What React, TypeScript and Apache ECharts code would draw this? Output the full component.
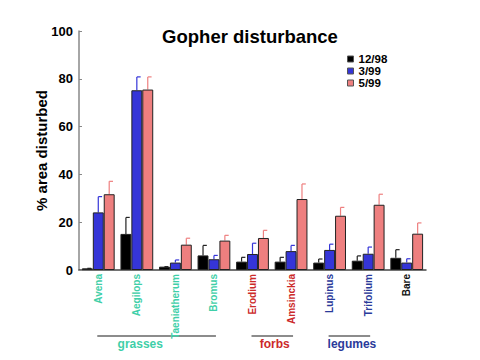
import React, { useEffect, useRef } from "react";
import * as echarts from "echarts";

const categories = ["Avena", "Aegilops", "Taeniatherum", "Bromus", "Erodium", "Amsinckia", "Lupinus", "Trifolium", "Bare"];
const categoryColors = ["#3fcfa8", "#3fcfa8", "#3fcfa8", "#3fcfa8", "#cc2a2a", "#cc2a2a", "#2a3a9a", "#2a3a9a", "#111111"];
const seriesNames = ["12/98", "3/99", "5/99"];
const seriesColors = ["#000000", "#3535d8", "#ee7f7f"];
const values1298 = [0.7, 15.1, 1.4, 6.1, 3.5, 3.5, 3.1, 3.9, 5.1];
const errTop1298 = [0.7, 22.0, 1.4, 10.3, 5.3, 5.3, 4.6, 5.9, 8.5];
const values399 = [24.1, 75.2, 3.1, 4.5, 6.7, 7.9, 8.4, 6.8, 3.1];
const errTop399 = [30.7, 80.8, 4.2, 6.1, 11.2, 10.3, 10.8, 9.6, 4.7];
const values599 = [31.7, 75.5, 10.6, 12.3, 13.4, 29.7, 22.7, 27.3, 15.2];
const errTop599 = [37.1, 80.8, 13.3, 14.5, 16.6, 36.0, 26.2, 31.7, 19.7];
const groups = [
  { name: "grasses", from: 0, to: 3, color: "#3fcfa8" },
  { name: "forbs", from: 4, to: 5, color: "#cc2a2a" },
  { name: "legumes", from: 6, to: 7, color: "#2a3a9a" },
];

const allValues = [values1298, values399, values599];
const allErr = [errTop1298, errTop399, errTop599];
const CAT_GAP = 0.15;

export default function App() {
  const ref = useRef<HTMLDivElement>(null);
  useEffect(() => {
    if (!ref.current) return;
    const chart = echarts.init(ref.current, null, { renderer: "svg" });
    const font = "Arial, 'Liberation Sans', sans-serif";
    const barSeries: any[] = seriesNames.map((name, i) => ({
      name,
      type: "bar",
      data: allValues[i],
      barGap: "0%",
      barCategoryGap: CAT_GAP * 100 + "%",
      itemStyle: { color: seriesColors[i], borderColor: "#222", borderWidth: 1 },
      z: 2,
    }));
    const errSeries: any[] = seriesNames.map((name, si) => ({
      type: "custom",
      name: name + "-err",
      data: allValues[si].map((v, k) => [k, v, allErr[si][k]]),
      z: 1,
      renderItem: (params: any, api: any) => {
        const k = api.value(0);
        const lo = api.coord([k, api.value(1)]);
        const hi = api.coord([k, api.value(2)]);
        const band = api.size([1, 0])[0];
        const bw = (band * (1 - CAT_GAP)) / 3;
        const x = lo[0] + (si - 1) * bw;
        const cap = bw * 0.35;
        const style = { stroke: si === 0 ? "#222" : seriesColors[si], lineWidth: 1.2 };
        return {
          type: "group",
          children: [
            { type: "line", shape: { x1: x, y1: lo[1], x2: x, y2: hi[1] }, style },
            { type: "line", shape: { x1: x, y1: hi[1], x2: x + cap, y2: hi[1] }, style },
          ],
        };
      },
    }));
    chart.setOption({
      animation: false,
      backgroundColor: "#ffffff",
      title: {
        text: "Gopher disturbance",
        left: 245,
        top: 22,
        textAlign: "center",
        textStyle: { fontFamily: font, fontSize: 18.5, fontWeight: "bold", color: "#000" },
      },
      legend: {
        data: seriesNames.map((n, i) => ({ name: n, itemStyle: { color: seriesColors[i], borderColor: "#555", borderWidth: 1 } })),
        orient: "vertical",
        left: 347,
        top: 53,
        padding: 0,
        itemWidth: 6,
        itemHeight: 6,
        itemGap: 0,
        icon: "rect",
        textStyle: { fontFamily: font, fontSize: 11.5, lineHeight: 10.5, fontWeight: "bold", color: "#000", padding: [0, 0, 0, 0] },
      },
      grid: { left: 79, right: 54, top: 31, bottom: 90 },
      xAxis: {
        type: "category",
        data: categories,
        axisLine: { lineStyle: { color: "#444", width: 1.5 } },
        axisTick: { show: false },
        axisLabel: {
          rotate: 90,
          interval: 0,
          margin: 4,
          fontFamily: font,
          fontSize: 10,
          fontWeight: "bold",
          color: (v: string, idx: number) => categoryColors[idx],
        },
      },
      yAxis: {
        type: "value",
        min: 0,
        max: 100,
        interval: 20,
        name: "% area disturbed",
        nameLocation: "middle",
        nameGap: 30,
        nameMoveOverlap: false,
        nameTextStyle: { fontFamily: font, fontSize: 15, fontWeight: "bold", color: "#000" },
        axisLine: { show: true, lineStyle: { color: "#888", width: 1.5 } },
        axisTick: { show: true, inside: true, length: 3, lineStyle: { color: "#888" } },
        splitLine: { show: false },
        axisLabel: { fontFamily: font, fontSize: 13, fontWeight: "bold", color: "#000", margin: 6 },
      },
      series: [...errSeries, ...barSeries],
    });
    const graphics: any[] = [];
    groups.forEach((g) => {
      const p1 = chart.convertToPixel({ xAxisIndex: 0 }, g.from) as number;
      const p2 = chart.convertToPixel({ xAxisIndex: 0 }, g.to) as number;
      const yPix = chart.convertToPixel({ yAxisIndex: 0 }, 0) as number;
      const lineY = yPix + 66;
      graphics.push({
        type: "line",
        shape: { x1: p1 - 1, y1: lineY, x2: p2 + 2, y2: lineY },
        style: { stroke: "#666", lineWidth: 1.5 },
      });
      graphics.push({
        type: "text",
        x: g.name === "grasses" ? p1 + 42 : (p1 + p2) / 2 + 3,
        y: lineY + 2,
        style: {
          text: g.name,
          fill: g.color,
          font: `bold 12px ${font}`,
          textAlign: "center",
          textVerticalAlign: "top",
        },
      });
    });
    chart.setOption({ graphic: graphics });
    return () => chart.dispose();
  }, []);
  return <div ref={ref} style={{ position: "absolute", left: 0, top: 0, width: 480, height: 360 }} />;
}
